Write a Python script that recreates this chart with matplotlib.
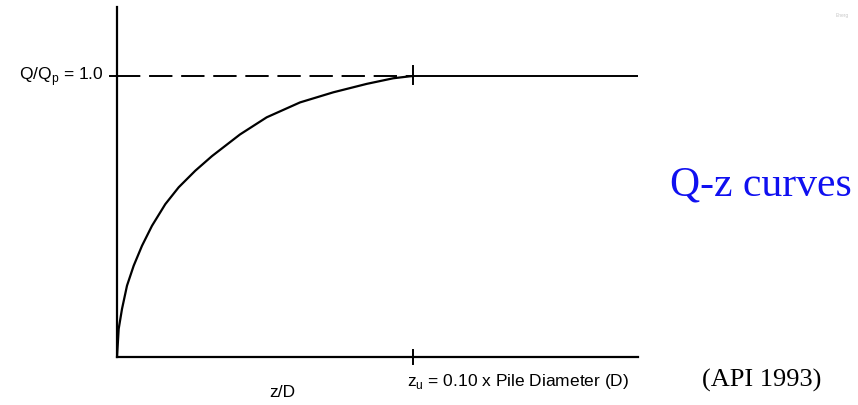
import matplotlib
matplotlib.use("Agg")
import matplotlib.pyplot as plt

# Data (z/D vs Q/Qp)
z_over_d = [0.0, 0.00057, 0.00169, 0.00338, 0.00564, 0.00845, 0.01182, 0.01632,
            0.02084, 0.02645, 0.03209, 0.04155, 0.05057, 0.06182, 0.07307,
            0.08436, 0.09334, 0.09899, 0.100]
q_ratio = [0.0, 0.100, 0.171, 0.254, 0.325, 0.396, 0.467, 0.544,
           0.604, 0.663, 0.715, 0.792, 0.853, 0.906, 0.942,
           0.972, 0.992, 0.999, 1.0]
z_u = 0.10
q_max = 1.0
z_end = 0.176

fig = plt.figure(figsize=(8.58, 4.06), dpi=100)
W, H = 858, 406
ax = fig.add_axes([117 / W, (H - 358) / H, (638 - 117) / W, (358 - 8) / H])
ax.set_xlim(0, z_end)
ax.set_ylim(0, 1.2456)
for s in ["top", "right"]:
    ax.spines[s].set_visible(False)
for s in ["left", "bottom"]:
    ax.spines[s].set_linewidth(1.6)
    ax.spines[s].set_color("black")
ax.set_xticks([])
ax.set_yticks([])

ax.plot(z_over_d, q_ratio, color="black", lw=1.6, solid_joinstyle="round")
ax.plot([z_u, z_end], [q_max, q_max], color="black", lw=1.4)
ax.plot([0, z_u], [q_max, q_max], color="black", lw=1.4, dashes=(12, 4.5))
ax.plot([-0.0025, 0], [q_max, q_max], color="black", lw=1.4, clip_on=False)
ax.plot([z_u, z_u], [q_max - 0.03, q_max + 0.035], color="black", lw=1.4, clip_on=False)
ax.plot([z_u, z_u], [-0.025, 0.025], color="black", lw=1.4, clip_on=False)

fam = ["Liberation Sans", "DejaVu Sans"]
fig.text(104 / W, 1 - 77 / H, r"Q/Q$_\mathregular{p}$ = 1.0", ha="right", va="center",
         fontsize=12.5, family=fam)
fig.text(282 / W, 1 - 393 / H, "z/D", ha="center", va="center", fontsize=12.5, family=fam)
fig.text(407 / W, 1 - 382 / H, r"z$_\mathregular{u}$ = 0.10 x Pile Diameter (D)", ha="left",
         va="center", fontsize=12.5, family=fam)

serif = ["Liberation Serif", "DejaVu Serif"]
fig.text(670 / W, 1 - 185 / H, "Q-z curves", ha="left", va="center", fontsize=30,
         color="#1010f0", family=serif)
fig.text(702 / W, 1 - 380 / H, "(API 1993)", ha="left", va="center", fontsize=19,
         color="black", family=serif)
fig.text(842 / W, 1 - 16 / H, "Energ", ha="center", va="center", fontsize=3.5,
         color="#c8c8c8", family=fam)

fig.savefig("out.png", dpi=100)
